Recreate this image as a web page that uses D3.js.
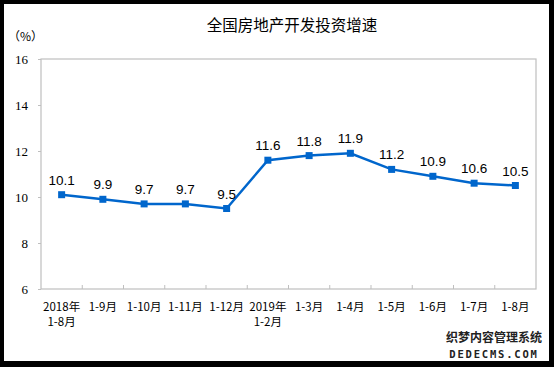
<!DOCTYPE html>
<html><head><meta charset="utf-8">
<script src="https://cdn.jsdelivr.net/npm/d3@7/dist/d3.min.js"></script>
<style>
html,body{margin:0;padding:0;background:#000;}
svg{display:block;}
</style></head>
<body>
<script>
const categories = [["2018年","1-8月"],["1-9月"],["1-10月"],["1-11月"],["1-12月"],["2019年","1-2月"],["1-3月"],["1-4月"],["1-5月"],["1-6月"],["1-7月"],["1-8月"]];
const values = [10.1, 9.9, 9.7, 9.7, 9.5, 11.6, 11.8, 11.9, 11.2, 10.9, 10.6, 10.5];
const yTicks = [6, 8, 10, 12, 14, 16];
const title = "全国房地产开发投资增速";
const unit = "（%）";

const W = 554, H = 367;
const svg = d3.select("body").append("svg").attr("width", W).attr("height", H);
svg.append("rect").attr("x",0).attr("y",0).attr("width",W).attr("height",H).attr("fill","#000");
svg.append("rect").attr("x",4).attr("y",4).attr("width",545).attr("height",357).attr("fill","#fff");

const L = 41, R = 536, T = 59, B = 289;
const x = d3.scaleBand().domain(d3.range(categories.length)).range([L, R]).padding(0);
const y = d3.scaleLinear().domain([6, 16]).range([B, T]);

// frame
svg.append("rect").attr("x", L).attr("y", T).attr("width", R-L).attr("height", B-T)
  .attr("fill","none").attr("stroke","#bfbfbf").attr("stroke-width",1.2);

// y axis
const yAxis = svg.append("g").attr("transform", `translate(${L},0)`)
  .call(d3.axisLeft(y).tickValues(yTicks).tickSize(3).tickPadding(10).tickFormat(d3.format("d")));
yAxis.select(".domain").remove();
yAxis.selectAll("line").attr("stroke","#bfbfbf");
yAxis.selectAll("text").attr("font-family","'Liberation Serif', serif").attr("font-size","13px").attr("fill","#000");

// x axis ticks at boundaries (inside)
const bounds = d3.range(1, categories.length);
svg.append("g").selectAll("line").data(bounds).join("line")
  .attr("x1", d => x(d)).attr("x2", d => x(d))
  .attr("y1", B).attr("y2", B-4).attr("stroke","#bfbfbf");

// x labels
const xl = svg.append("g").selectAll("text").data(categories).join("text")
  .attr("x", (d,i) => x(i) + x.bandwidth()/2)
  .attr("y", 311)
  .attr("text-anchor","middle")
  .attr("font-family","'Noto Sans CJK SC', sans-serif")
  .attr("font-size","11.5px").attr("fill","#000");
xl.each(function(d){
  const t = d3.select(this);
  d.forEach((s, k) => t.append("tspan").attr("x", t.attr("x")).attr("dy", k === 0 ? 0 : 15).text(s));
});

// line
const cx = i => x(i) + x.bandwidth()/2;
svg.append("path").datum(values)
  .attr("d", d3.line().x((d,i) => cx(i)).y(d => y(d)))
  .attr("fill","none").attr("stroke","#0066cc").attr("stroke-width",2.5);
svg.append("g").selectAll("rect").data(values).join("rect")
  .attr("x", (d,i) => cx(i) - 3.5).attr("y", d => y(d) - 3.5)
  .attr("width",7).attr("height",7).attr("fill","#0066cc");

// data labels
svg.append("g").selectAll("text").data(values).join("text")
  .attr("x", (d,i) => cx(i)).attr("y", d => y(d) - 10)
  .attr("text-anchor","middle")
  .attr("font-family","'Liberation Sans', Arial, sans-serif")
  .attr("font-size","13.5px").attr("fill","#000")
  .text(d => d3.format(".1f")(d));

// title
svg.append("text").attr("x", 292).attr("y", 31).attr("text-anchor","middle")
  .attr("font-family","'Noto Sans CJK SC', sans-serif").attr("font-size","15.5px").attr("fill","#000")
  .text(title);
svg.append("text").attr("x", 8).attr("y", 41)
  .attr("font-family","'Noto Sans CJK SC', sans-serif").attr("font-size","12px").attr("fill","#000")
  .text(unit);

// watermark
svg.append("text").attr("x", 494).attr("y", 342).attr("text-anchor","middle")
  .attr("font-family","'Noto Sans CJK SC', sans-serif").attr("font-size","12px").attr("font-weight","bold")
  .attr("fill","#222")
  .text("织梦内容管理系统");
svg.append("text").attr("x", 494).attr("y", 358).attr("text-anchor","middle")
  .attr("font-family","'DejaVu Sans Mono', monospace").attr("font-size","10.5px").attr("font-weight","bold")
  .attr("letter-spacing","1.8px").attr("fill","#222")
  .text("DEDECMS.COM");
</script>
</body></html>
